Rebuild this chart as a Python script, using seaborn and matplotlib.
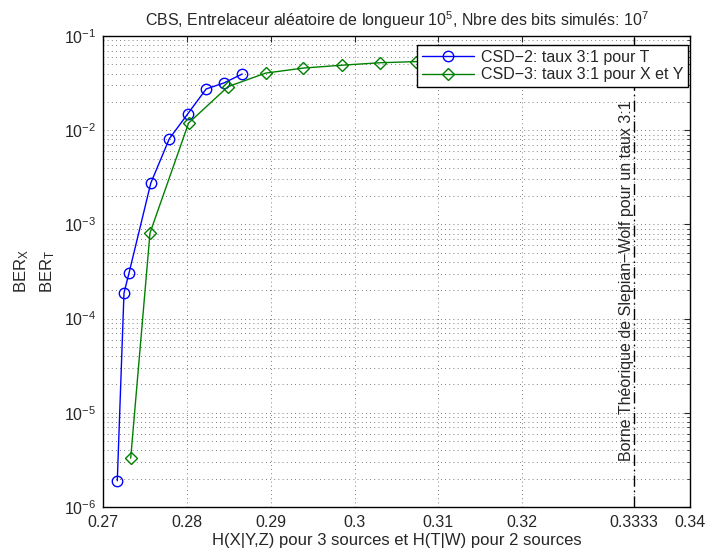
import numpy as np
import pandas as pd
import matplotlib
matplotlib.use("Agg")
import matplotlib.pyplot as plt
import seaborn as sns

# CSD-2 (taux 3:1 pour T)
x_csd2 = [0.2717, 0.2725, 0.2731, 0.2757, 0.2779, 0.2801, 0.2823, 0.2844, 0.2866]
ber_csd2 = [1.9e-6, 1.87e-4, 3.05e-4, 2.75e-3, 8.1e-3, 1.49e-2, 2.74e-2, 3.17e-2, 3.95e-2]

# CSD-3 (taux 3:1 pour X et Y)
x_csd3 = [0.2733, 0.2756, 0.2802, 0.2849, 0.2894, 0.2939, 0.2985, 0.3030, 0.3073, 0.3118]
ber_csd3 = [3.3e-6, 8.1e-4, 1.19e-2, 2.9e-2, 4.04e-2, 4.57e-2, 4.9e-2, 5.2e-2, 5.35e-2, 5.5e-2]

borne_sw = 1 / 3
xticks = [0.27, 0.28, 0.29, 0.30, 0.31, 0.32, borne_sw, 0.34]
xtick_labels = ["0.27", "0.28", "0.29", "0.3", "0.31", "0.32", "0.3333", "0.34"]

df2 = pd.DataFrame({"H": x_csd2, "BER": ber_csd2})
df3 = pd.DataFrame({"H": x_csd3, "BER": ber_csd3})

sns.set_style("white")
plt.rcParams["font.family"] = ["Liberation Sans", "DejaVu Sans"]
plt.rcParams["font.size"] = 11.5
plt.rcParams["mathtext.fontset"] = "custom"
plt.rcParams["mathtext.rm"] = "Liberation Sans"
plt.rcParams["mathtext.it"] = "Liberation Sans"
plt.rcParams["mathtext.default"] = "regular"

fig = plt.figure(figsize=(7.13, 5.55), dpi=100)
ax = fig.add_axes([0.1445, 0.0865, 0.8232, 0.8486])

sns.lineplot(data=df2, x="H", y="BER", ax=ax, color="#0000ff", marker="o",
             markersize=7.5, markerfacecolor="none", markeredgecolor="#0000ff",
             markeredgewidth=1, linewidth=1, label="CSD\u22122: taux 3:1 pour T",
             sort=False, estimator=None)
sns.lineplot(data=df3, x="H", y="BER", ax=ax, color="#008000", marker="D",
             markersize=6.5, markerfacecolor="none", markeredgecolor="#008000",
             markeredgewidth=1, linewidth=1, label="CSD\u22123: taux 3:1 pour X et Y",
             sort=False, estimator=None)

ax.axvline(borne_sw, color="black", linestyle=(0, (8, 3, 1, 3)), linewidth=1)
ax.text(0.3324, 10 ** -3.6, "Borne Th\u00e9orique de Slepian\u2212Wolf pour un taux 3:1",
        rotation=90, ha="center", va="center", fontsize=11.5)

ax.set_yscale("log")
ax.set_xlim(0.27, 0.34)
ax.set_ylim(1e-6, 1e-1)
ax.set_xticks(xticks)
ax.set_xticklabels(xtick_labels)
ax.set_yticks([1e-6, 1e-5, 1e-4, 1e-3, 1e-2, 1e-1])

ax.tick_params(which="both", direction="in", top=True, right=True, labelsize=11.5)
ax.tick_params(which="major", length=4)
ax.tick_params(which="minor", length=2)
ax.tick_params(axis="y", pad=5)
ax.tick_params(axis="x", pad=6)
ax.grid(True, which="major", axis="x", color="#555555", linestyle=(0, (1, 4)), linewidth=0.6)
ax.grid(True, which="both", axis="y", color="#555555", linestyle=(0, (1, 4)), linewidth=0.6)
for s in ax.spines.values():
    s.set_color("black")
    s.set_linewidth(1)

ax.set_xlabel("H(X|Y,Z) pour 3 sources et H(T|W) pour 2 sources", fontsize=12, labelpad=2)
ax.set_ylabel("BER$_X$\nBER$_T$", fontsize=12, labelpad=5, linespacing=1.5)
ax.set_title("CBS, Entrelaceur al\u00e9atoire de longueur 10$^5$, Nbre des bits simul\u00e9s: 10$^7$",
             fontsize=11.5, pad=7)

leg = ax.legend(loc="upper right", bbox_to_anchor=(0.997, 0.981), borderaxespad=0,
                frameon=True, fancybox=False, fontsize=11.5, handlelength=3.25,
                borderpad=0.3, labelspacing=0.15, handletextpad=0.45)
leg.get_frame().set_edgecolor("black")
leg.get_frame().set_linewidth(1)
leg.get_frame().set_alpha(1)

fig.savefig("out.png", dpi=100)
